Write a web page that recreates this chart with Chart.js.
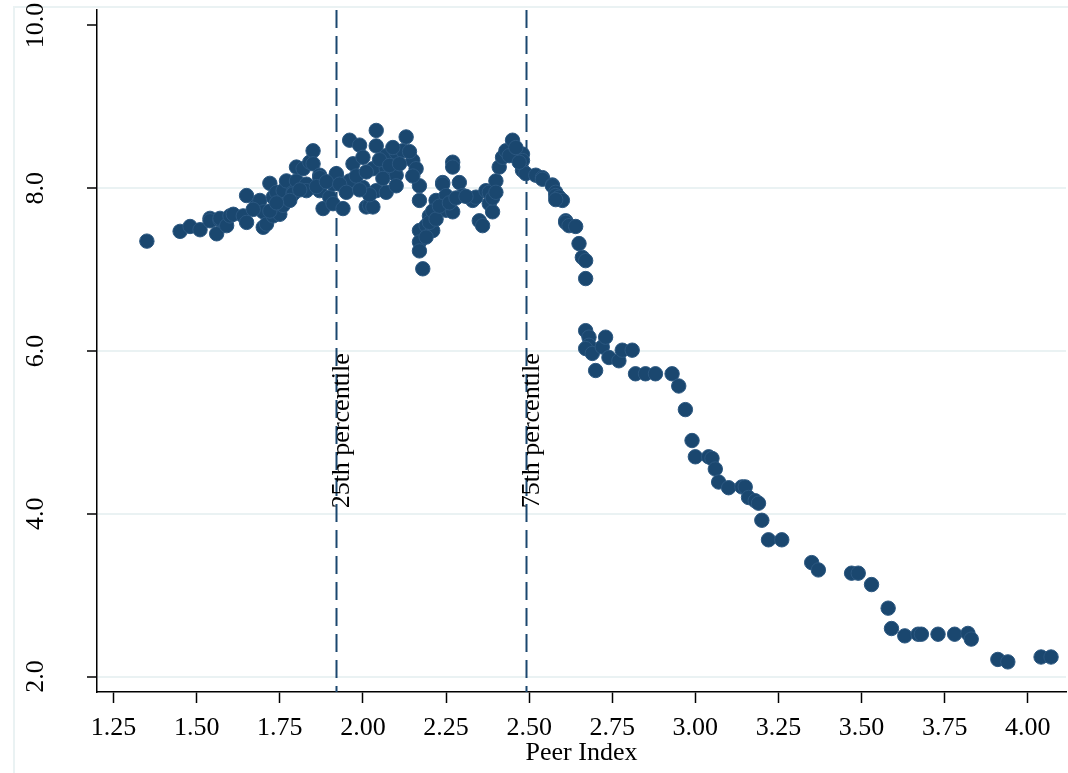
<!DOCTYPE html>
<html>
<head>
<meta charset="utf-8">
<script src="https://cdn.jsdelivr.net/npm/chart.js@4.4.1/dist/chart.umd.min.js"></script>
<style>
  html, body { margin: 0; padding: 0; background: #ffffff; }
  #wrap { width: 1068px; height: 773px; position: relative; }
</style>
</head>
<body>
<div id="wrap"><canvas id="chart" width="1068" height="773"></canvas></div>
<script>
// Peer index (x) and outcome (y) for each observation
const peerIndex = [
  1.35, 1.45, 1.48, 1.51, 1.54, 1.54, 1.56, 1.57, 1.57, 1.59, 1.60, 1.61, 1.64, 1.65, 1.65,
  1.68, 1.69, 1.70, 1.70, 1.71, 1.72, 1.73, 1.73, 1.74, 1.75, 1.76, 1.76, 1.77, 1.79, 1.79,
  1.80, 1.80, 1.82, 1.83, 1.83, 1.84, 1.85, 1.85, 1.87, 1.87, 1.87, 1.88, 1.90, 1.91, 1.91,
  1.92, 1.92, 1.94, 1.96, 1.96, 1.97, 1.99, 2.00, 2.00, 2.01, 2.02, 2.03, 2.03, 2.04, 2.04,
  2.04, 2.07, 2.07, 2.07, 2.10, 2.10, 2.10, 2.12, 2.13, 2.15, 2.16, 2.17, 2.17, 2.17, 2.17,
  2.17, 2.18, 2.19, 2.20, 2.21, 2.22, 2.24, 2.24, 2.25, 2.25, 2.27, 2.27, 2.27, 2.29, 2.30,
  2.33, 2.34, 2.35, 2.36, 2.37, 2.38, 2.38, 2.39, 2.40, 2.41, 2.42, 2.43, 2.45, 2.48, 2.48,
  2.48, 2.49, 2.52, 2.54, 2.54, 2.57, 2.57, 2.58, 2.58, 2.59, 2.60, 2.58, 2.61, 2.61, 2.62,
  2.64, 2.65, 2.66, 2.67, 2.67, 2.67, 2.68, 2.68, 2.67, 2.69, 2.70, 2.72, 2.73, 2.74, 2.77,
  2.78, 2.81, 2.82, 2.85, 2.88, 2.93, 2.95, 2.97, 2.99, 3.00, 3.04, 3.05, 3.06, 3.07, 3.10,
  3.14, 3.15, 3.16, 3.18, 3.19, 3.20, 3.22, 3.26, 3.35, 3.37, 3.47, 3.49, 3.53, 3.58, 3.59,
  3.63, 3.67, 3.68, 3.73, 3.78, 3.82, 3.83, 3.91, 3.94, 4.04, 4.07,
  1.78, 1.81, 1.86, 1.89, 1.93, 1.95, 1.98, 2.01, 2.05, 2.06, 2.08, 2.09, 2.11, 2.14, 2.15,
  2.19, 2.20, 2.21, 2.22, 2.23, 2.26, 2.28, 2.31, 2.39, 2.40, 2.44, 2.46, 2.47, 1.67, 1.72,
  1.74, 2.02, 1.99
];
const outcome = [
  7.35, 7.47, 7.53, 7.49, 7.63, 7.60, 7.44, 7.61, 7.63, 7.54, 7.66, 7.68, 7.66, 7.58, 7.91,
  7.79, 7.85, 7.71, 7.52, 7.56, 8.06, 7.89, 7.66, 7.95, 7.68, 7.79, 7.97, 8.09, 7.95, 7.93,
  8.09, 8.26, 8.24, 8.05, 7.97, 8.32, 8.46, 8.30, 8.16, 8.13, 7.97, 7.75, 7.89, 7.81, 8.05,
  8.16, 8.18, 7.75, 8.59, 8.09, 8.30, 8.53, 8.38, 8.01, 7.77, 7.79, 8.24, 7.77, 8.71, 8.52,
  7.97, 8.40, 8.24, 7.95, 8.44, 8.16, 8.03, 8.46, 8.63, 8.34, 8.24, 8.03, 7.85, 7.48, 7.34,
  7.23, 7.01, 7.54, 7.66, 7.48, 7.85, 8.07, 8.05, 7.91, 7.73, 7.71, 8.32, 8.26, 8.07, 7.91,
  7.85, 7.89, 7.60, 7.54, 7.97, 7.95, 7.81, 7.71, 8.09, 8.26, 8.38, 8.46, 8.59, 8.42, 8.34,
  8.22, 8.18, 8.16, 8.13, 8.11, 8.04, 8.03, 7.95, 7.91, 7.89, 7.85, 7.86, 7.60, 7.58, 7.54,
  7.53, 7.32, 7.15, 7.11, 6.89, 6.25, 6.17, 6.07, 6.03, 5.97, 5.76, 6.05, 6.17, 5.92, 5.88,
  6.01, 6.01, 5.72, 5.72, 5.72, 5.72, 5.57, 5.28, 4.90, 4.70, 4.70, 4.68, 4.55, 4.39, 4.32,
  4.33, 4.33, 4.20, 4.16, 4.13, 3.92, 3.68, 3.68, 3.40, 3.31, 3.27, 3.27, 3.13, 2.84, 2.59,
  2.50, 2.52, 2.52, 2.52, 2.52, 2.53, 2.46, 2.21, 2.18, 2.24, 2.24,
  7.85, 7.98, 8.02, 8.08, 8.05, 7.95, 8.15, 8.20, 8.35, 8.12, 8.28, 8.50, 8.30, 8.45, 8.15,
  7.40, 7.58, 7.72, 7.62, 7.78, 7.82, 7.88, 7.90, 7.88, 7.95, 8.40, 8.50, 8.32, 7.74, 7.72,
  7.82, 7.92, 7.98
];

const xTickValues = [1.25, 1.50, 1.75, 2.00, 2.25, 2.50, 2.75, 3.00, 3.25, 3.50, 3.75, 4.00];
const xTickLabels = ['1.25', '1.50', '1.75', '2.00', '2.25', '2.50', '2.75', '3.00', '3.25', '3.50', '3.75', '4.00'];
const yTickValues = [2, 4, 6, 8, 10];
const yTickLabels = ['2.0', '4.0', '6.0', '8.0', '10.0'];

// Reference lines at the 25th and 75th percentile of the peer index
const percentileValues = [1.92, 2.49];
const percentileLabels = ['25th percentile', '75th percentile'];
const percentileLabelY = 5.02;

const NAVY = '#1a476f';
const FONT = "'Liberation Serif', 'DejaVu Serif', serif";
const FONT_SIZE = 26;

const points = peerIndex.map((x, i) => ({ x: x, y: outcome[i] }));

// Light outer frame of the graph region
const framePlugin = {
  id: 'frame',
  beforeDraw(chart) {
    const ctx = chart.ctx;
    ctx.save();
    ctx.fillStyle = '#ffffff';
    ctx.fillRect(0, 0, chart.width, chart.height);
    ctx.strokeStyle = '#eaf2f3';
    ctx.lineWidth = 2;
    ctx.beginPath();
    ctx.moveTo(14, chart.height + 5);
    ctx.lineTo(14, 7);
    ctx.lineTo(chart.width + 5, 7);
    ctx.stroke();
    ctx.restore();
  }
};

// Dashed percentile lines with rotated captions, and the upright-reading y labels
const percentilePlugin = {
  id: 'percentiles',
  beforeDatasetsDraw(chart) {
    const ctx = chart.ctx;
    const xs = chart.scales.x, ys = chart.scales.y;
    const area = chart.chartArea;
    ctx.save();
    ctx.strokeStyle = NAVY;
    ctx.lineWidth = 2;
    ctx.setLineDash([18, 8]);
    percentileValues.forEach(v => {
      const px = Math.round(xs.getPixelForValue(v)) + 0.5;
      ctx.beginPath();
      ctx.moveTo(px, area.top);
      ctx.lineTo(px, area.bottom);
      ctx.stroke();
    });
    ctx.setLineDash([]);
    ctx.fillStyle = '#000000';
    ctx.font = FONT_SIZE + 'px ' + FONT;
    ctx.textAlign = 'center';
    ctx.textBaseline = 'middle';
    percentileValues.forEach((v, i) => {
      const px = xs.getPixelForValue(v) + 6;
      const py = ys.getPixelForValue(percentileLabelY);
      ctx.save();
      ctx.translate(px, py);
      ctx.rotate(-Math.PI / 2);
      ctx.fillText(percentileLabels[i], 0, 0);
      ctx.restore();
    });
    ctx.restore();
  },
  afterDraw(chart) {
    const ctx = chart.ctx;
    const ys = chart.scales.y;
    ctx.save();
    ctx.fillStyle = '#000000';
    ctx.font = FONT_SIZE + 'px ' + FONT;
    ctx.textAlign = 'center';
    ctx.textBaseline = 'middle';
    yTickValues.forEach((v, i) => {
      const py = ys.getPixelForValue(v);
      ctx.save();
      ctx.translate(36, py);
      ctx.rotate(-Math.PI / 2);
      ctx.fillText(yTickLabels[i], 0, 0);
      ctx.restore();
    });
    ctx.restore();
  }
};

new Chart(document.getElementById('chart'), {
  type: 'scatter',
  data: {
    datasets: [{
      data: points,
      backgroundColor: NAVY,
      borderColor: '#2b5780',
      borderWidth: 1,
      pointRadius: 7.2,
      pointHoverRadius: 7.2
    }]
  },
  options: {
    responsive: false,
    animation: false,
    devicePixelRatio: 1,
    layout: { autoPadding: false, padding: { top: 10, right: 2, left: 0, bottom: 0 } },
    plugins: {
      legend: { display: false },
      tooltip: { enabled: false }
    },
    scales: {
      x: {
        type: 'linear',
        min: 1.2,
        max: 4.115,
        afterBuildTicks(scale) {
          scale.ticks = xTickValues.map(v => ({ value: v }));
        },
        afterFit(scale) { scale.height = 81; },
        ticks: {
          autoSkip: false,
          maxRotation: 0,
          minRotation: 0,
          padding: 10,
          color: '#000000',
          font: { family: FONT, size: FONT_SIZE },
          callback: (v, i) => xTickLabels[i]
        },
        grid: {
          drawOnChartArea: false,
          drawTicks: true,
          tickLength: 11,
          tickColor: '#000000',
          tickWidth: 1.5
        },
        border: { display: true, color: '#000000', width: 1.5 },
        title: {
          display: true,
          text: 'Peer Index',
          color: '#000000',
          font: { family: FONT, size: FONT_SIZE },
          padding: { top: 0, bottom: 4 }
        }
      },
      y: {
        type: 'linear',
        min: 1.81,
        max: 10.19,
        afterBuildTicks(scale) {
          scale.ticks = yTickValues.map(v => ({ value: v }));
        },
        afterFit(scale) { scale.width = 97; },
        ticks: { display: false },
        grid: {
          drawOnChartArea: true,
          drawTicks: true,
          tickLength: 10,
          tickColor: '#000000',
          tickWidth: 1.5,
          lineWidth: 2,
          color: ctx => (ctx.tick && ctx.tick.value === 10) ? 'rgba(0,0,0,0)' : '#eaf2f3'
        },
        border: { display: true, color: '#000000', width: 1.5 }
      }
    }
  },
  plugins: [framePlugin, percentilePlugin]
});
</script>
</body>
</html>
